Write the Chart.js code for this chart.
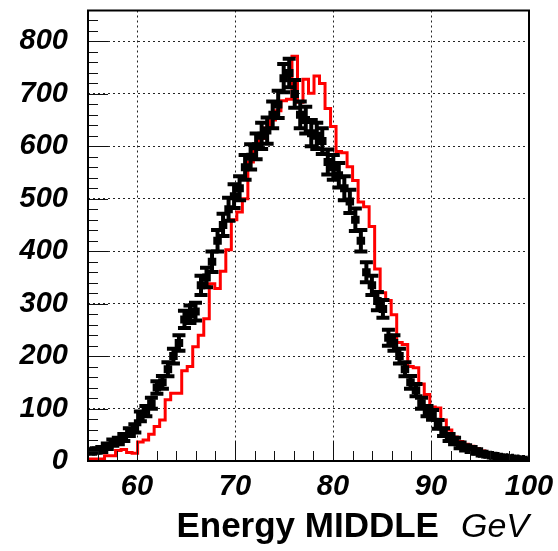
<!DOCTYPE html>
<html>
<head>
<meta charset="utf-8">
<script src="https://cdn.jsdelivr.net/npm/chart.js@4.4.0/dist/chart.umd.min.js"></script>
<style>
  html, body { margin: 0; padding: 0; background: #fff; }
  #c { display: block; }
</style>
</head>
<body>
<canvas id="c" width="558" height="551"></canvas>
<script>
// histogram binning, GeV
var binLow = 55;
var binWidth = 0.5625;

// red histogram (80 bins)
var redCounts = [
  4, 4, 4, 10, 10, 20, 22, 16, 15, 36,
  40, 51, 66, 78, 117, 129, 129, 172, 180, 218,
  240, 271, 338, 329, 362, 403, 460, 475, 500, 570,
  598, 615, 635, 650, 668, 687, 690, 772, 684, 728,
  701, 734, 720, 672, 638, 590, 588, 561, 535, 494,
  485, 447, 366, 321, 306, 279, 226, 222, 180, 178,
  147, 127, 103, 101, 78, 59, 46, 37, 32, 28,
  24, 19, 16, 12, 10, 9, 7, 5, 4, 3
];

// black points with error bars (80 bins)
var blackCounts = [
  18, 20, 22, 28, 35, 38, 45, 55, 62, 85,
  95, 110, 140, 150, 175, 200, 225, 270, 280, 285,
  335, 350, 380, 420, 450, 480, 505, 520, 560, 580,
  600, 620, 630, 660, 680, 730, 740, 700, 660, 650,
  625, 620, 610, 570, 560, 545, 520, 495, 460, 420,
  360, 335, 305, 290, 235, 225, 200, 175, 150, 135,
  110, 95, 88, 70, 55, 45, 38, 30, 25, 22,
  18, 14, 12, 10, 8, 7, 6, 5, 4, 3
];

var xTicks = [60, 70, 80, 90, 100];
var yTicks = [0, 100, 200, 300, 400, 500, 600, 700, 800];
var xMin = 55, xMax = 100, yMin = 0, yMax = 859;

var tickFont = { family: '"Liberation Sans", Arial, sans-serif', size: 29, style: 'italic', weight: 'bold' };

// red outline, one point per left bin edge plus the last right edge
var redLine = redCounts.map(function (v, i) { return { x: binLow + i * binWidth, y: v }; });
redLine.push({ x: binLow + redCounts.length * binWidth, y: redCounts[redCounts.length - 1] });

// black error bars
var stems = [], hbars = [], caps = [], edges = [];
blackCounts.forEach(function (v, i) {
  var lo = binLow + i * binWidth, hi = lo + binWidth, c = lo + binWidth / 2;
  var e = Math.sqrt(v);
  stems.push({ x: c, y: v - e }, { x: c, y: v + e }, { x: c, y: null });
  hbars.push({ x: lo, y: v }, { x: hi, y: v }, { x: hi, y: null });
  caps.push({ x: c, y: v - e }, { x: c, y: v + e });
  edges.push({ x: lo, y: v }, { x: hi, y: v });
});

function noPad(s) {
  s.paddingTop = 0; s.paddingBottom = 0; s.paddingLeft = 0; s.paddingRight = 0;
}

var rootFrame = {
  id: 'rootFrame',
  afterDatasetsDraw: function (chart) {
    var ctx = chart.ctx, a = chart.chartArea, xs = chart.scales.x, ys = chart.scales.y;
    ctx.save();
    ctx.strokeStyle = '#111';
    ctx.lineWidth = 1;
    ctx.beginPath();
    for (var v = 56; v < xMax; v += 2) {
      var px = Math.round(xs.getPixelForValue(v)) + 0.5;
      var len = (v % 10 === 0) ? 20 : 10;
      ctx.moveTo(px, a.bottom);
      ctx.lineTo(px, a.bottom - len);
    }
    for (var w = 20; w < yMax; w += 20) {
      var py = Math.round(ys.getPixelForValue(w)) + 0.5;
      var l2 = (w % 100 === 0) ? 20 : 10;
      ctx.moveTo(a.left, py);
      ctx.lineTo(a.left + l2, py);
    }
    ctx.stroke();
    ctx.lineWidth = 2;
    ctx.strokeStyle = '#000';
    ctx.strokeRect(a.left, a.top, a.right - a.left, a.bottom - a.top);
    ctx.restore();
  },
  afterDraw: function (chart) {
    var ctx = chart.ctx, a = chart.chartArea;
    var y = 537;
    ctx.save();
    ctx.fillStyle = '#000';
    ctx.textBaseline = 'alphabetic';
    ctx.font = 'italic 34px "Liberation Sans", Arial, sans-serif';
    var unit = 'GeV';
    var wUnit = ctx.measureText(unit).width;
    ctx.fillText(unit, a.right - wUnit, y);
    ctx.font = 'bold 35px "Liberation Sans", Arial, sans-serif';
    var name = 'Energy MIDDLE';
    var wName = ctx.measureText(name).width;
    ctx.fillText(name, a.right - wUnit - 22 - wName, y);
    ctx.restore();
  }
};

new Chart(document.getElementById('c'), {
  data: {
    datasets: [
      {
        type: 'line', data: stems, borderColor: '#000', borderWidth: 4,
        pointRadius: 0, spanGaps: false, borderCapStyle: 'butt'
      },
      {
        type: 'line', data: hbars, borderColor: '#000', borderWidth: 3,
        pointRadius: 0, spanGaps: false, borderCapStyle: 'butt'
      },
      {
        type: 'scatter', data: caps, pointStyle: 'line', pointRadius: 6.5,
        borderColor: '#000', pointBorderWidth: 4, borderWidth: 4
      },
      {
        type: 'scatter', data: edges, pointStyle: 'line', pointRotation: 90, pointRadius: 4,
        borderColor: '#000', pointBorderWidth: 3, borderWidth: 3
      },
      {
        type: 'line', data: redLine, stepped: true, borderColor: '#ff0000', borderWidth: 3,
        pointRadius: 0, fill: false
      }
    ]
  },
  options: {
    responsive: false,
    animation: false,
    events: [],
    layout: { padding: { top: 8, right: 29, left: 0, bottom: 0 } },
    plugins: { legend: { display: false }, tooltip: { enabled: false } },
    scales: {
      x: {
        type: 'linear', min: xMin, max: xMax,
        afterBuildTicks: function (s) { s.ticks = xTicks.map(function (v) { return { value: v }; }); },
        afterFit: function (s) { s.height = 90; noPad(s); },
        grid: {
          drawTicks: false, lineWidth: 1, borderDash: [2, 3],
          color: function (c) { return c.tick && c.tick.value === xMax ? 'rgba(0,0,0,0)' : '#222'; }
        },
        border: { display: false, dash: [2, 3] },
        ticks: { color: '#000', font: tickFont, padding: 9, maxRotation: 0, autoSkip: false }
      },
      y: {
        type: 'linear', min: yMin, max: yMax,
        afterBuildTicks: function (s) { s.ticks = yTicks.map(function (v) { return { value: v }; }); },
        afterFit: function (s) { s.width = 88; noPad(s); },
        grid: {
          drawTicks: false, lineWidth: 1, borderDash: [2, 3],
          color: function (c) { return c.tick && c.tick.value === 0 ? 'rgba(0,0,0,0)' : '#222'; }
        },
        border: { display: false, dash: [2, 3] },
        ticks: { color: '#000', font: tickFont, padding: 20, autoSkip: false }
      }
    }
  },
  plugins: [rootFrame]
});
</script>
</body>
</html>
